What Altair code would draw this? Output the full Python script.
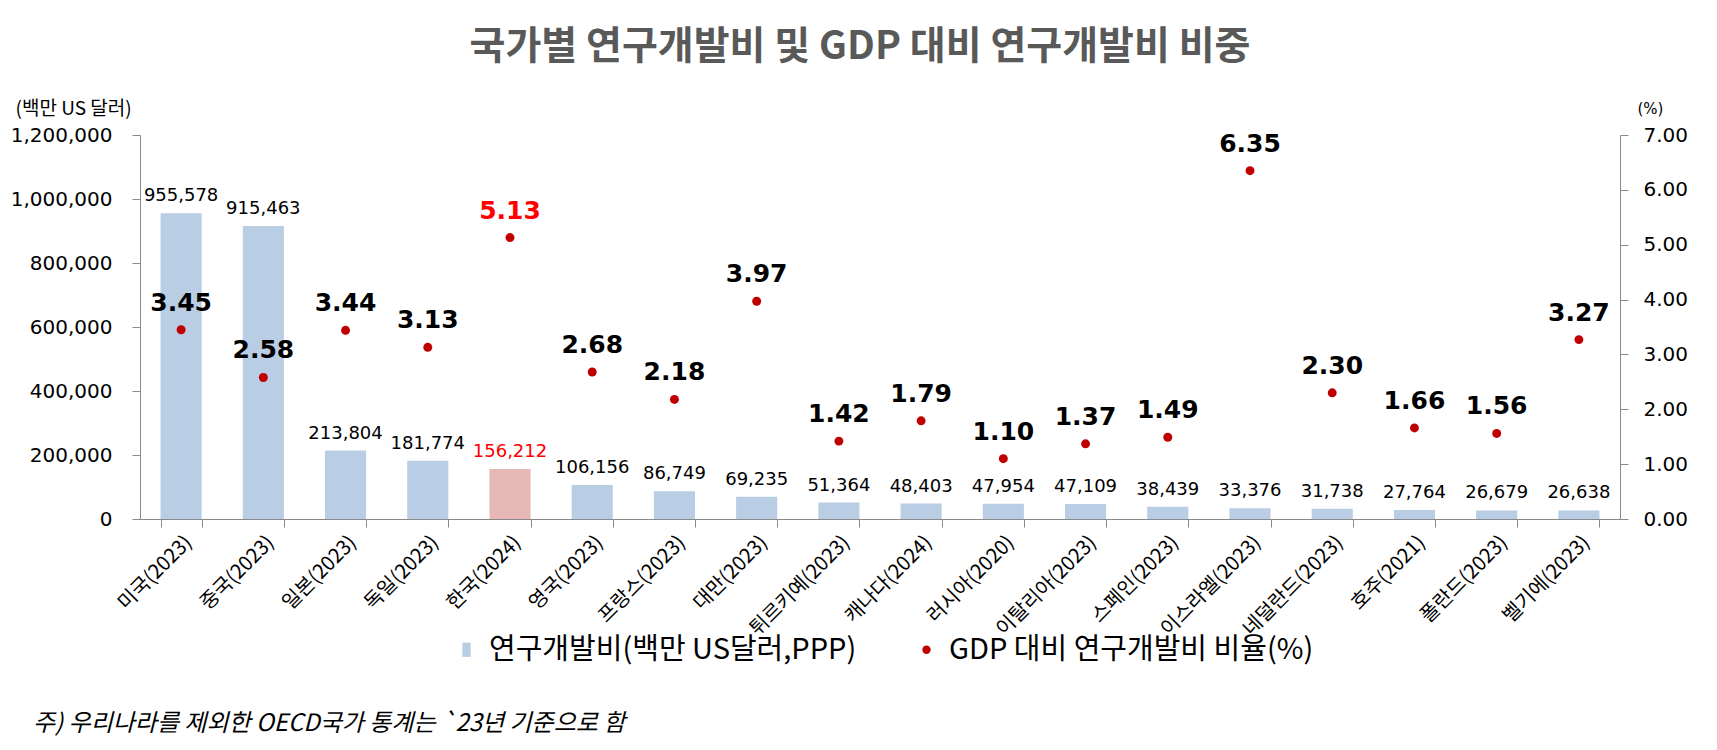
import altair as alt
import pandas as pd

countries = ["미국(2023)", "중국(2023)", "일본(2023)", "독일(2023)", "한국(2024)", "영국(2023)",
             "프랑스(2023)", "대만(2023)", "튀르키예(2023)", "캐나다(2024)", "러시아(2020)",
             "이탈리아(2023)", "스페인(2023)", "이스라엘(2023)", "네덜란드(2023)", "호주(2021)",
             "폴란드(2023)", "벨기에(2023)"]
rd_spend = [955578, 915463, 213804, 181774, 156212, 106156, 86749, 69235, 51364, 48403,
            47954, 47109, 38439, 33376, 31738, 27764, 26679, 26638]
rd_ratio = [3.45, 2.58, 3.44, 3.13, 5.13, 2.68, 2.18, 3.97, 1.42, 1.79, 1.10, 1.37, 1.49,
            6.35, 2.30, 1.66, 1.56, 3.27]

highlight = "한국(2024)"
bar_series = "연구개발비(백만 US달러,PPP)"
dot_series = "GDP 대비 연구개발비 비율(%)"
title_text = "국가별 연구개발비 및 GDP 대비 연구개발비 비중"
left_unit = "(백만 US 달러)"
right_unit = "(%)"
footnote = "주) 우리나라를 제외한 OECD국가 통계는 `23년 기준으로 함"

df = pd.DataFrame({"country": countries, "rd": rd_spend, "ratio": rd_ratio,
                   "series": [dot_series] * len(countries)})

BLUE = "#B9CDE5"
PINK = "#E6B9B8"
DOT = "#C00000"
RED = "#FF0000"
AXIS = "#898989"
NUM_FONT = "DejaVu Sans"
KR_FONT = "Noto Sans CJK KR"

is_kr = alt.datum.country == highlight

x_enc = alt.X("country:N", sort=countries,
              scale=alt.Scale(paddingInner=0.5, paddingOuter=0.25),
              axis=alt.Axis(title=None, labelAngle=-45, labelFont=KR_FONT, labelFontSize=20,
                            labelColor="#000000", tickBand="extent", tickSize=8,
                            domainColor=AXIS, tickColor=AXIS, labelPadding=5))

y_left = alt.Y("rd:Q", scale=alt.Scale(domain=[0, 1200000]),
               axis=alt.Axis(title=left_unit, titleAngle=0, titleX=-125, titleY=-27,
                             titleAlign="left", titleBaseline="middle", titleFont=KR_FONT,
                             titleFontSize=19, titleFontWeight="normal", titleColor="#000000",
                             values=[0, 200000, 400000, 600000, 800000, 1000000, 1200000],
                             format=",d", labelFont=NUM_FONT, labelFontSize=20,
                             labelColor="#000000", labelPadding=20, tickSize=8, grid=False,
                             domainColor=AXIS, tickColor=AXIS))

y_right = alt.Y("ratio:Q", scale=alt.Scale(domain=[0, 7]),
                axis=alt.Axis(orient="right", title=right_unit, titleAngle=0, titleX=30,
                              titleY=-27, titleAlign="center", titleBaseline="middle",
                              titleFont=NUM_FONT, titleFontSize=15, titleFontWeight="normal",
                              titleColor="#000000", values=[0, 1, 2, 3, 4, 5, 6, 7],
                              format=".2f", labelFont=NUM_FONT, labelFontSize=20,
                              labelColor="#000000", labelPadding=15, tickSize=8, grid=False,
                              domainColor=AXIS, tickColor=AXIS))

legend_def = alt.Legend(title=None, orient="none", legendX=312, legendY=500,
                        direction="horizontal", labelFont=KR_FONT, labelFontSize=29,
                        labelColor="#000000", labelLimit=0, symbolSize=70,
                        symbolStrokeWidth=0, labelOffset=8, columnPadding=55, padding=0)

base = alt.Chart(df)

bars = base.mark_bar().encode(
    x=x_enc, y=y_left,
    color=alt.when(is_kr).then(alt.value(PINK)).otherwise(alt.value(BLUE)))

bar_text = base.mark_text(baseline="alphabetic", dy=-12, font=NUM_FONT, fontSize=18).encode(
    x=x_enc, y=y_left, text=alt.Text("rd:Q", format=",d"),
    color=alt.when(is_kr).then(alt.value(RED)).otherwise(alt.value("#000000")))

dots = base.mark_point(filled=True, size=80, opacity=1).encode(
    x=x_enc, y=y_right,
    color=alt.Color("series:N",
                    scale=alt.Scale(domain=[bar_series, dot_series], range=[BLUE, DOT]),
                    legend=legend_def),
    shape=alt.Shape("series:N",
                    scale=alt.Scale(domain=[bar_series, dot_series],
                                    range=["M-1,-1.7L1,-1.7L1,1.7L-1,1.7Z", "circle"]),
                    legend=legend_def))

dot_text = base.mark_text(baseline="alphabetic", dy=-19, font=NUM_FONT, fontSize=25,
                          fontWeight="bold").encode(
    x=x_enc, y=y_right, text=alt.Text("ratio:Q", format=".2f"),
    color=alt.when(is_kr).then(alt.value(RED)).otherwise(alt.value("#000000")))

note = alt.Chart(pd.DataFrame({"t": [footnote]})).mark_text(
    align="left", baseline="middle", font=KR_FONT, fontSize=24, fontStyle="italic",
    color="#000000").encode(text="t:N", x=alt.value(-107), y=alt.value(589))

chart = alt.layer(
    alt.layer(bars, bar_text),
    alt.layer(dots, dot_text),
    note,
).resolve_scale(y="independent").properties(
    width=1480, height=384,
    autosize=alt.AutoSizeParams(type="none"),
    padding={"left": 132, "top": 127, "right": 80, "bottom": 220},
    title=alt.TitleParams(title_text, anchor="middle", frame="group", offset=32, dx=-20,
                          font=KR_FONT, fontSize=39, fontWeight="bold", color="#595959"),
).configure_view(stroke=None)

chart.save("out.html", embed_options={"renderer": "svg", "actions": False})
